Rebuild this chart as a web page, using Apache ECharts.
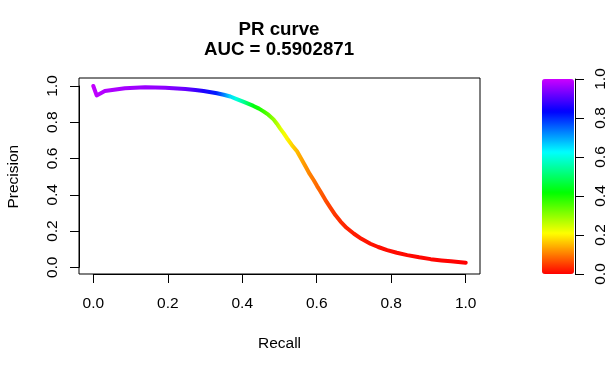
<!DOCTYPE html>
<html><head><meta charset="utf-8">
<script src="https://cdn.jsdelivr.net/npm/echarts@6/dist/echarts.min.js"></script>
<style>html,body{margin:0;padding:0;background:#fff}#c{width:615px;height:373px}</style>
</head><body><div id="c"></div>
<script>
// Data
const recall =    [0, 0.009, 0.031, 0.085, 0.139, 0.193, 0.247, 0.274, 0.296, 0.332, 0.35, 0.368, 0.385, 0.404, 0.43, 0.445, 0.457, 0.47, 0.484, 0.493, 0.502, 0.511, 0.52, 0.533, 0.547, 0.558, 0.57, 0.581, 0.592, 0.601, 0.61, 0.623, 0.637, 0.65, 0.664, 0.68, 0.7, 0.72, 0.744, 0.765, 0.789, 0.815, 0.843, 0.875, 0.906, 0.935, 0.96, 0.98, 1.0];
const precision = [1.0, 0.948, 0.972, 0.988, 0.993, 0.99, 0.984, 0.978, 0.972, 0.96, 0.952, 0.942, 0.928, 0.912, 0.89, 0.875, 0.86, 0.842, 0.816, 0.792, 0.765, 0.74, 0.712, 0.675, 0.64, 0.6, 0.556, 0.515, 0.48, 0.448, 0.418, 0.372, 0.328, 0.288, 0.252, 0.218, 0.185, 0.157, 0.13, 0.112, 0.095, 0.08, 0.067, 0.055, 0.045, 0.038, 0.033, 0.029, 0.025];
const cutoff =    [1.0, 0.99, 0.98, 0.97, 0.96, 0.95, 0.92, 0.89, 0.86, 0.81, 0.74, 0.66, 0.6, 0.54, 0.43, 0.4, 0.37, 0.34, 0.30, 0.27, 0.24, 0.22, 0.2, 0.175, 0.15, 0.135, 0.12, 0.105, 0.095, 0.085, 0.075, 0.062, 0.05, 0.042, 0.035, 0.028, 0.022, 0.018, 0.015, 0.012, 0.01, 0.008, 0.007, 0.005, 0.004, 0.003, 0.002, 0.001, 0];
const titleLines = ['PR curve', 'AUC = 0.5902871'];
const xName = 'Recall', yName = 'Precision';

const FONT = 'Liberation Sans, Arial, Helvetica, sans-serif';
function rainbow(t) {
  const h = Math.max(0, Math.min(1, t)) * 0.8 * 6;
  let i = Math.floor(h); if (i > 5) i = 5;
  const f = h - i;
  let r, g, b;
  switch (i) {
    case 0: r = 1; g = f; b = 0; break;
    case 1: r = 1 - f; g = 1; b = 0; break;
    case 2: r = 0; g = 1; b = f; break;
    case 3: r = 0; g = 1 - f; b = 1; break;
    case 4: r = f; g = 0; b = 1; break;
    default: r = 1; g = 0; b = 1 - f;
  }
  const hx = v => Math.round(v * 255).toString(16).padStart(2, '0');
  return '#' + hx(r) + hx(g) + hx(b);
}
const barColors = [];
for (let i = 0; i <= 48; i++) barColors.push(rainbow(i / 48));
const stops = recall.map((r, i) => ({ offset: r, color: rainbow(cutoff[i]) }));

const chart = echarts.init(document.getElementById('c'), null, { renderer: 'canvas' });
const axisLbl = { color: '#000', fontSize: 15.5, fontFamily: FONT };
const blk = { color: '#000', width: 1 };
const line = { show: true, onZero: false, lineStyle: blk };
const tick = { show: true, length: 9, inside: false, lineStyle: blk };
chart.setOption({
  animation: false,
  backgroundColor: '#fff',
  graphic: [
    { type: 'text', x: 279, y: 30, style: { text: titleLines[0], textAlign: 'center', textVerticalAlign: 'middle', fontSize: 18.7, fontWeight: 'bold', fontFamily: FONT, fill: '#000' } },
    { type: 'text', x: 279, y: 50, style: { text: titleLines[1], textAlign: 'center', textVerticalAlign: 'middle', fontSize: 18.7, fontWeight: 'bold', fontFamily: FONT, fill: '#000' } }
  ],
  grid: [
    { left: 79, top: 78, width: 401, height: 196, show: true, borderColor: '#000', borderWidth: 1, backgroundColor: 'transparent', containLabel: false, outerBoundsMode: 'none' },
    { left: 93.3, top: 86, width: 372.4, height: 181.3, show: false, containLabel: false, outerBoundsMode: 'none' },
    { left: 540, top: 79, width: 35, height: 195, show: false, containLabel: false, outerBoundsMode: 'none' }
  ],
  xAxis: [
    { gridIndex: 0, type: 'value', min: 0, max: 1, show: false },
    { gridIndex: 1, type: 'value', min: 0, max: 1, interval: 0.2, position: 'bottom', offset: 6.7,
      axisLine: line, axisTick: tick,
      axisLabel: Object.assign({ margin: 22, formatter: v => v.toFixed(1) }, axisLbl), splitLine: { show: false },
      name: xName, nameLocation: 'middle', nameGap: 62, nameTextStyle: axisLbl },
    { gridIndex: 2, type: 'value', min: 0, max: 1, show: false }
  ],
  yAxis: [
    { gridIndex: 0, type: 'value', min: 0, max: 1, show: false },
    { gridIndex: 1, type: 'value', min: 0, max: 1, interval: 0.2, position: 'left', offset: 14.3,
      axisLine: line, axisTick: tick,
      axisLabel: Object.assign({ margin: 18, rotate: 90, formatter: v => v.toFixed(1) }, axisLbl), splitLine: { show: false },
      name: yName, nameLocation: 'middle', nameGap: 57, nameRotate: 90, nameTextStyle: axisLbl },
    { gridIndex: 2, type: 'value', min: 0, max: 1, interval: 0.2, position: 'right',
      axisLine: line, axisTick: tick,
      axisLabel: Object.assign({ margin: 18, rotate: 90, formatter: v => v.toFixed(1) }, axisLbl), splitLine: { show: false } }
  ],
  visualMap: {
    type: 'continuous', seriesIndex: 1, dimension: 1, min: 0, max: 1,
    left: 542, top: 79, itemWidth: 32, itemHeight: 195, padding: 0,
    calculable: false, orient: 'vertical', inRange: { color: barColors }, hoverLink: false
  },
  series: [
    { type: 'line', xAxisIndex: 1, yAxisIndex: 1, data: recall.map((r, i) => [r, precision[i]]),
      showSymbol: false, symbol: 'none', clip: false, silent: true,
      lineStyle: { width: 4, cap: 'round', join: 'round',
        color: new echarts.graphic.LinearGradient(0, 0, 1, 0, stops) } },
    { type: 'scatter', xAxisIndex: 2, yAxisIndex: 2, data: [] }
  ]
});
</script></body></html>
